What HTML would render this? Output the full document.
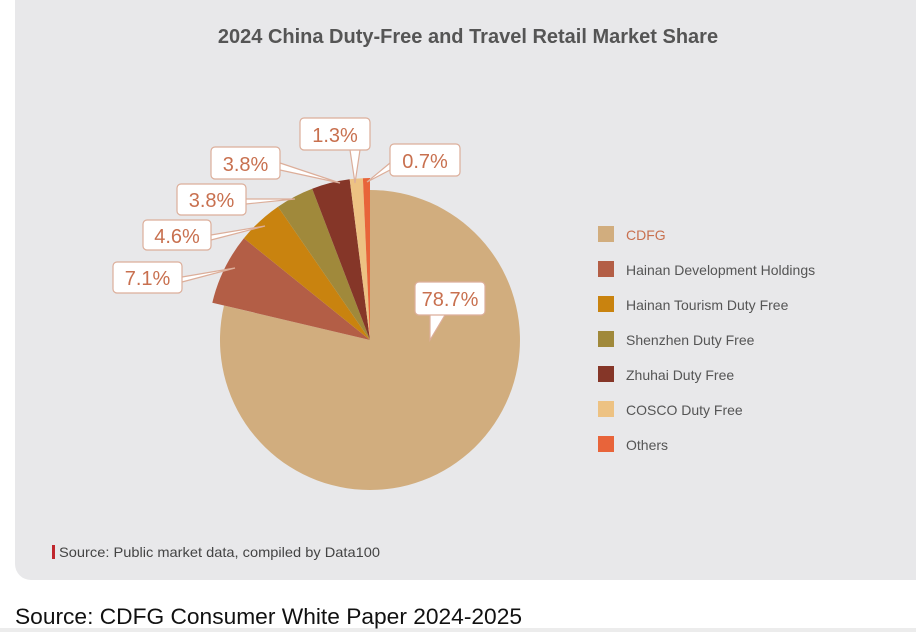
<!DOCTYPE html>
<html><head><meta charset="utf-8"><style>
body{margin:0;width:916px;height:632px;background:#fff;overflow:hidden;font-family:"Liberation Sans",sans-serif}
</style></head><body>
<svg width="916" height="632" xmlns="http://www.w3.org/2000/svg" style="position:absolute;left:0;top:0">
<rect x="15" y="-20" width="920" height="600" rx="16" fill="#e8e8ea"/>
<rect x="0" y="628" width="916" height="4" fill="#ececec"/>
<text x="468" y="43" text-anchor="middle" font-size="20" font-weight="bold" fill="#555">2024 China Duty-Free and Travel Retail Market Share</text>
<path d="M370,340 L370,190 A150,150 0 1 1 224,305.5 Z" fill="#d1ad7e"/>
<path d="M370,340 L212.3,302.7 A162,162 0 0 1 243.9,238.3 Z" fill="#b35e46"/>
<path d="M370,340 L243.9,238.3 A162,162 0 0 1 278,206.7 Z" fill="#c9830f"/>
<path d="M370,340 L278,206.7 A162,162 0 0 1 312.2,188.7 Z" fill="#a0893b"/>
<path d="M370,340 L312.2,188.7 A162,162 0 0 1 349.7,179.3 Z" fill="#853628"/>
<path d="M370,340 L349.7,179.3 A162,162 0 0 1 362.9,178.2 Z" fill="#edc283"/>
<path d="M370,340 L362.9,178.2 A162,162 0 0 1 370,178 Z" fill="#e8643a"/>
<g fill="#fff" stroke="#dcae9a" stroke-width="1.2">
<path d="M182,277 L235,268 L182,282"/>
<path d="M211,235 L265,226 L211,240"/>
<path d="M246,199 L295,199 L246,204"/>
<path d="M280,163 L340,183 L280,170"/>
<path d="M350,150 L355,183 L360,150"/>
<path d="M390,163 L367,182 L390,170"/>
<path d="M430,315 L430,340 L445,315"/>
<rect x="113" y="262" width="69" height="31" rx="4"/>
<rect x="143" y="220" width="68" height="30" rx="4"/>
<rect x="177" y="184" width="69" height="31" rx="4"/>
<rect x="211" y="147" width="69" height="32" rx="4"/>
<rect x="300" y="118" width="70" height="32" rx="4"/>
<rect x="390" y="144" width="70" height="32" rx="4"/>
<rect x="415" y="282" width="70" height="33" rx="4"/>
</g>
<g fill="#c8704f" font-size="20" text-anchor="middle">
<text x="147.5" y="285">7.1%</text>
<text x="177" y="243">4.6%</text>
<text x="211.5" y="207">3.8%</text>
<text x="245.5" y="171">3.8%</text>
<text x="335" y="142">1.3%</text>
<text x="425" y="168">0.7%</text>
<text x="450" y="306">78.7%</text>
</g>
<g font-size="14" fill="#555">
<rect x="598" y="226" width="16" height="16" fill="#d1ad7e"/><text x="626" y="240" fill="#c8704f">CDFG</text>
<rect x="598" y="261" width="16" height="16" fill="#b35e46"/><text x="626" y="275">Hainan Development Holdings</text>
<rect x="598" y="296" width="16" height="16" fill="#c9830f"/><text x="626" y="310">Hainan Tourism Duty Free</text>
<rect x="598" y="331" width="16" height="16" fill="#a0893b"/><text x="626" y="345">Shenzhen Duty Free</text>
<rect x="598" y="366" width="16" height="16" fill="#853628"/><text x="626" y="380">Zhuhai Duty Free</text>
<rect x="598" y="401" width="16" height="16" fill="#edc283"/><text x="626" y="415">COSCO Duty Free</text>
<rect x="598" y="436" width="16" height="16" fill="#e8643a"/><text x="626" y="450">Others</text>
</g>
<rect x="52" y="545" width="3" height="14" fill="#c0262d"/>
<text x="59" y="557" font-size="14" fill="#444" textLength="321" lengthAdjust="spacingAndGlyphs">Source: Public market data, compiled by Data100</text>
<text x="15" y="624" font-size="22" fill="#111" textLength="507" lengthAdjust="spacingAndGlyphs">Source: CDFG Consumer White Paper 2024-2025</text>
</svg>
</body></html>
